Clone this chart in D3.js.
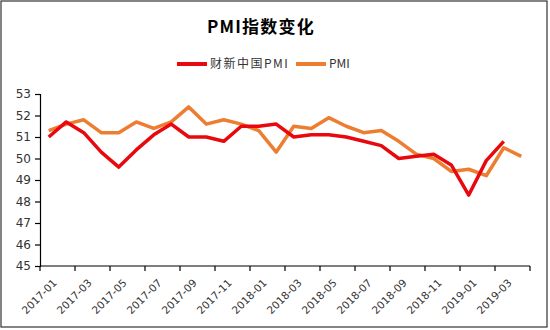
<!DOCTYPE html>
<html>
<head>
<meta charset="utf-8">
<script src="https://cdn.jsdelivr.net/npm/d3@7"></script>
<style>
  html, body { margin: 0; padding: 0; background: #fff; }
  svg { display: block; }
</style>
</head>
<body>
<svg id="chart" width="550" height="330"></svg>
<script>
// Monthly categories 2017-01 .. 2019-04
const months = [
  "2017-01","2017-02","2017-03","2017-04","2017-05","2017-06","2017-07","2017-08","2017-09","2017-10","2017-11","2017-12",
  "2018-01","2018-02","2018-03","2018-04","2018-05","2018-06","2018-07","2018-08","2018-09","2018-10","2018-11","2018-12",
  "2019-01","2019-02","2019-03","2019-04"
];
// Caixin China manufacturing PMI (no April 2019 value)
const caixinPMI = [
  51.0, 51.7, 51.2, 50.3, 49.6, 50.4, 51.1, 51.6, 51.0, 51.0, 50.8, 51.5,
  51.5, 51.6, 51.0, 51.1, 51.1, 51.0, 50.8, 50.6, 50.0, 50.1, 50.2, 49.7,
  48.3, 49.9, 50.8, null
];
// Official manufacturing PMI
const officialPMI = [
  51.3, 51.6, 51.8, 51.2, 51.2, 51.7, 51.4, 51.7, 52.4, 51.6, 51.8, 51.6,
  51.3, 50.3, 51.5, 51.4, 51.9, 51.5, 51.2, 51.3, 50.8, 50.2, 50.0, 49.4,
  49.5, 49.2, 50.5, 50.1
];
const yTicks = [45, 46, 47, 48, 49, 50, 51, 52, 53];
const seriesNames = ["财新中国PMI", "PMI"];
const titleText = "PMI指数变化";

const colors = ["#E8090F", "#ED7D31"];
const svg = d3.select("#chart");
const W = 550, H = 330;
const plotLeft = 40, plotRight = 530, plotTop = 94, plotBottom = 266;

// outer frame
svg.append("rect").attr("x", 1).attr("y", 1).attr("width", W - 4).attr("height", H - 4)
  .attr("fill", "#fff").attr("stroke", "#333").attr("stroke-width", 1.2);

// title
svg.append("text").attr("x", 261).attr("y", 33).attr("text-anchor", "middle")
  .attr("font-family", "'Noto Sans CJK SC', sans-serif").attr("font-weight", "bold")
  .attr("font-size", 17).attr("letter-spacing", 1.2).attr("fill", "#000").text(titleText);

const x = d3.scaleBand().domain(months).range([plotLeft, plotRight]).padding(0);
const y = d3.scaleLinear().domain([45, 53]).range([plotBottom, plotTop]);

// y axis
const yAxis = d3.axisLeft(y).tickValues(yTicks).tickSize(5).tickPadding(4).tickFormat(d3.format("d"));
const gy = svg.append("g").attr("transform", `translate(${plotLeft},0)`).call(yAxis);
gy.select(".domain").attr("stroke", "#000").attr("stroke-width", 1.2);
gy.selectAll(".tick line").attr("stroke", "#000").attr("stroke-width", 1.2);
gy.selectAll(".tick text").attr("font-family", "Verdana, 'DejaVu Sans', sans-serif")
  .attr("font-size", 12).attr("fill", "#333");

// x axis: tick marks on category boundaries, every 2 months
const gx = svg.append("g").attr("transform", `translate(0,${plotBottom})`);
gx.append("line").attr("x1", plotLeft).attr("x2", plotRight).attr("y1", 0).attr("y2", 0)
  .attr("stroke", "#000").attr("stroke-width", 1.2);
const boundaries = months.map((m, i) => i).filter(i => i % 2 === 0).map(i => x(months[i]));
boundaries.push(plotRight);
gx.selectAll("line.tk").data(boundaries).join("line").attr("class", "tk")
  .attr("x1", d => d).attr("x2", d => d).attr("y1", 0).attr("y2", 5)
  .attr("stroke", "#000").attr("stroke-width", 1.2);
const labelled = months.filter((m, i) => i % 2 === 0);
gx.selectAll("text").data(labelled).join("text")
  .attr("transform", d => `translate(${x(d) + x.bandwidth() / 2 + 6},${15}) rotate(-45)`)
  .attr("text-anchor", "end").attr("dy", "0.35em")
  .attr("font-family", "Verdana, 'DejaVu Sans', sans-serif").attr("font-size", 10.5)
  .attr("fill", "#333").text(d => d);

// lines
const line = d3.line()
  .defined(d => d.v != null)
  .x(d => x(d.m) + x.bandwidth() / 2)
  .y(d => y(d.v));
const series = [caixinPMI, officialPMI];
// official line first, Caixin on top
[1, 0].forEach(k => {
  svg.append("path")
    .datum(months.map((m, i) => ({ m, v: series[k][i] })))
    .attr("fill", "none").attr("stroke", colors[k]).attr("stroke-width", 3.5)
    .attr("stroke-linejoin", "round").attr("d", line);
});

// legend
const legend = [
  { name: seriesNames[0], color: colors[0], x: 177, spacing: 1.5 },
  { name: seriesNames[1], color: colors[1], x: 296, spacing: 0 }
];
legend.forEach(l => {
  svg.append("line").attr("x1", l.x).attr("x2", l.x + 30).attr("y1", 64).attr("y2", 64)
    .attr("stroke", l.color).attr("stroke-width", 4);
  svg.append("text").attr("x", l.x + 33).attr("y", 68)
    .attr("font-family", "'Noto Sans CJK SC', sans-serif").attr("font-size", 12)
    .attr("letter-spacing", l.spacing).attr("fill", "#333").text(l.name);
});
</script>
</body>
</html>
